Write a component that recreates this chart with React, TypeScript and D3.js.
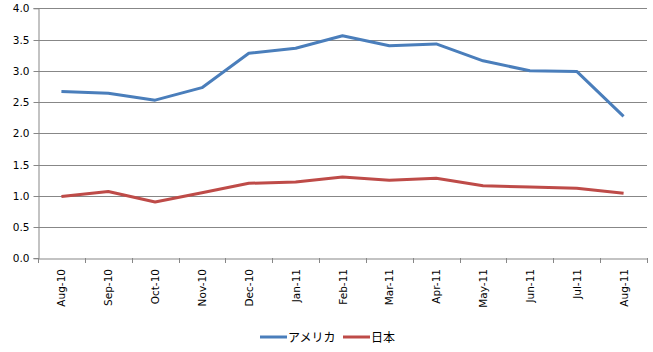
import { useEffect, useRef } from 'react';
import * as d3 from 'd3';

const months = [
  'Aug-10', 'Sep-10', 'Oct-10', 'Nov-10', 'Dec-10', 'Jan-11', 'Feb-11',
  'Mar-11', 'Apr-11', 'May-11', 'Jun-11', 'Jul-11', 'Aug-11',
];
const america = [2.67, 2.64, 2.53, 2.73, 3.28, 3.36, 3.56, 3.4, 3.43, 3.16, 3.0, 2.99, 2.27];
const japan = [0.99, 1.07, 0.9, 1.05, 1.2, 1.22, 1.3, 1.25, 1.28, 1.16, 1.14, 1.12, 1.04];
const yTicks = [0, 0.5, 1, 1.5, 2, 2.5, 3, 3.5, 4];

const series = [
  { name: 'アメリカ', values: america, color: '#4A7EBB' },
  { name: '日本', values: japan, color: '#BE4B48' },
];

export default function App() {
  const svgRef = useRef<SVGSVGElement>(null);

  useEffect(() => {
    if (!svgRef.current) return;
    const svg = d3.select(svgRef.current);
    svg.selectAll('*').remove();

    const font = '"DejaVu Sans", Verdana, sans-serif';
    const left = 38;
    const right = 647;
    const top = 8.3;
    const bottom = 258.3;

    const x = d3.scaleBand().domain(months).range([left, right]);
    const y = d3.scaleLinear().domain([0, 4]).range([bottom, top]);

    // Gridlines
    svg.append('g')
      .selectAll('line')
      .data(yTicks.filter((t) => t > 0))
      .join('line')
      .attr('x1', left)
      .attr('x2', right)
      .attr('y1', (d) => Math.round(y(d)) + 0.5)
      .attr('y2', (d) => Math.round(y(d)) + 0.5)
      .attr('stroke', '#878787')
      .attr('stroke-width', 1);

    // Y axis
    const yAxis = svg.append('g')
      .attr('transform', `translate(${left + 0.5},0)`)
      .call(d3.axisLeft(y).tickValues(yTicks).tickFormat(d3.format('.1f')).tickSize(5).tickPadding(4));
    yAxis.select('.domain').attr('stroke', '#878787');
    yAxis.selectAll('.tick line').attr('stroke', '#878787');
    yAxis.selectAll('.tick')
      .attr('transform', (d: any) => `translate(0,${Math.round(y(d)) + 0.5})`);
    yAxis.selectAll('text')
      .attr('fill', '#000')
      .attr('font-family', font)
      .attr('font-size', '10.5px');

    // X axis
    const xAxis = svg.append('g')
      .attr('transform', `translate(0,${Math.round(bottom) + 0.5})`)
      .call(d3.axisBottom(x).tickSize(0).tickFormat(() => ''));
    xAxis.select('.domain').attr('stroke', '#878787');
    xAxis.selectAll('.tick').remove();

    svg.append('g')
      .selectAll('line')
      .data(d3.range(months.length + 1))
      .join('line')
      .attr('x1', (i) => Math.round(left + i * x.step()) + 0.5)
      .attr('x2', (i) => Math.round(left + i * x.step()) + 0.5)
      .attr('y1', Math.round(bottom))
      .attr('y2', Math.round(bottom) + 5)
      .attr('stroke', '#878787');

    svg.append('g')
      .selectAll('text')
      .data(months)
      .join('text')
      .attr('transform', (d) => `translate(${x(d)! + x.bandwidth() / 2 + 4},269) rotate(-90)`)
      .attr('text-anchor', 'end')
      .attr('font-family', font)
      .attr('font-size', '10.5px')
      .attr('fill', '#000')
      .text((d) => d);

    // Lines
    const line = d3.line<number>()
      .x((_, i) => x(months[i])! + x.bandwidth() / 2)
      .y((d) => y(d));

    series.forEach((s) => {
      svg.append('path')
        .datum(s.values)
        .attr('fill', 'none')
        .attr('stroke', s.color)
        .attr('stroke-width', 3)
        .attr('stroke-linejoin', 'round')
        .attr('d', line);
    });

    // Legend
    const legendX = [260, 343];
    series.forEach((s, i) => {
      const lg = svg.append('g').attr('transform', `translate(${legendX[i]},337)`);
      lg.append('line')
        .attr('x1', 0)
        .attr('x2', 27)
        .attr('stroke', s.color)
        .attr('stroke-width', 3);
      lg.append('text')
        .attr('x', 28)
        .attr('y', 5)
        .attr('font-family', '"Noto Sans CJK JP", sans-serif')
        .attr('font-size', '12px')
        .attr('fill', '#000')
        .text(s.name);
    });
  }, []);

  return (
    <svg
      ref={svgRef}
      width={653}
      height={352}
      style={{ position: 'absolute', left: 0, top: 0, background: '#fff' }}
    />
  );
}
